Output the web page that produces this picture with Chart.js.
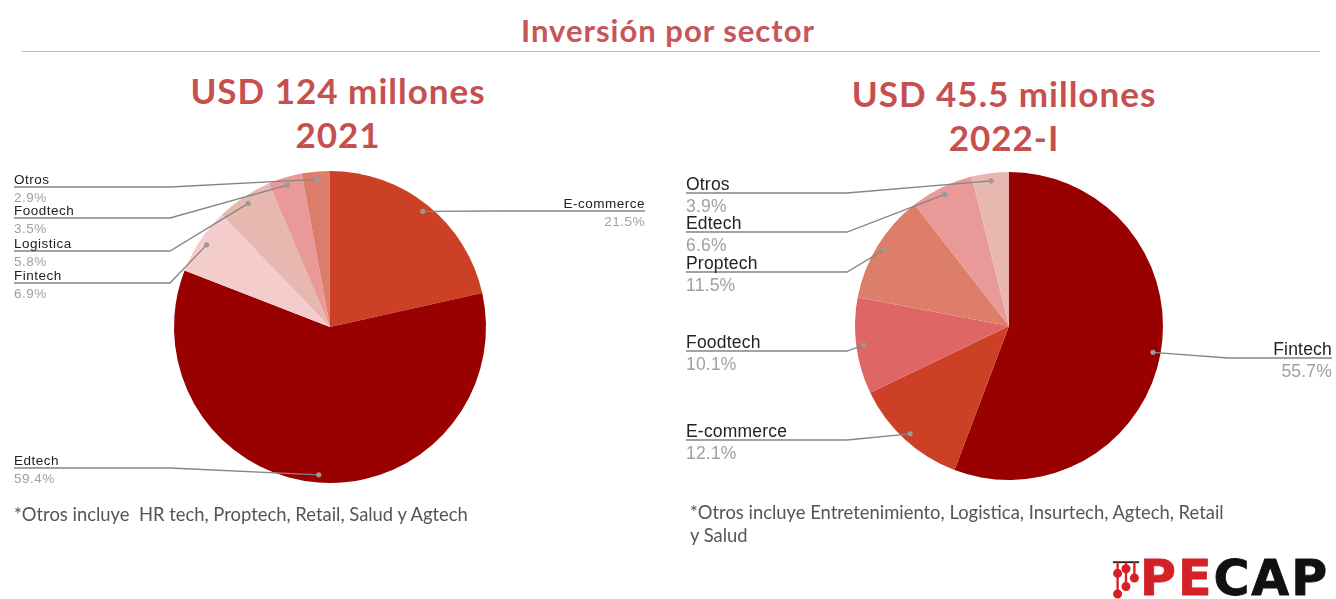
<!DOCTYPE html>
<html>
<head>
<meta charset="utf-8">
<script src="https://cdn.jsdelivr.net/npm/chart.js@4.4.0/dist/chart.umd.min.js"></script>
<style>
  body { margin: 0; background: #fff; width: 1336px; height: 599px; overflow: hidden; position: relative; font-family: Lato, sans-serif; }
  .abs { position: absolute; }
  #title { left: 0; width: 1336px; top: 11px; text-align: center; font-size: 31px; font-weight: 700; letter-spacing: 1px; color: #c9545a; }
  #rule { left: 22px; top: 51px; width: 1298px; height: 0; border-top: 1.5px solid #f0a3a3; }
  .head { text-align: center; font-weight: 700; color: #c5504f; font-size: 35px; line-height: 44px; letter-spacing: 1px; }
  .note { font-size: 18.4px; color: #555; line-height: 23px; }
  #logo { left: 1112px; top: 556px; font-family: "DejaVu Sans", sans-serif; font-weight: 700; font-size: 49px; line-height: 46px; letter-spacing: 2px; -webkit-text-stroke: 0.8px currentColor; }
  canvas { position: absolute; }
</style>
</head>
<body>
<div id="title" class="abs">Inversión por sector</div>
<div id="rule" class="abs"></div>
<div class="abs head" style="left:138px;width:400px;top:68px">USD 124 millones<br>2021</div>
<div class="abs head" style="left:804px;width:400px;top:71px">USD 45.5 millones<br>2022-I</div>
<canvas id="pie2021" width="668" height="360" style="left:0;top:150px"></canvas>
<canvas id="pie2022" width="668" height="360" style="left:668px;top:150px"></canvas>
<div class="abs note" style="left:14px;top:503px">*Otros incluye&nbsp; HR tech, Proptech, Retail, Salud y Agtech</div>
<div class="abs note" style="left:690px;top:501px">*Otros incluye Entretenimiento, Logistica, Insurtech, Agtech, Retail<br>y Salud</div>
<div id="logo" class="abs">
  <svg width="28" height="40" viewBox="0 0 30 40" style="vertical-align:-4px;margin-right:0">
    <g stroke="#d42027" stroke-width="2.5" fill="#d42027">
      <line x1="1" y1="2" x2="29" y2="2" stroke="#222" stroke-width="2"/>
      <line x1="6" y1="2" x2="6" y2="38"/>
      <line x1="15" y1="2" x2="15" y2="30"/>
      <line x1="24" y1="2" x2="24" y2="20"/>
      <circle cx="6" cy="14" r="3.6"/><circle cx="6" cy="36" r="3.6"/>
      <circle cx="15" cy="9" r="3.6"/><circle cx="15" cy="28" r="3.6"/>
      <circle cx="24" cy="19" r="3.6"/>
    </g>
  </svg><span style="color:#d42027">PE</span><span style="color:#111">CAP</span>
</div>
<script>
// 2021 breakdown, clockwise from 12 o'clock
const sectors2021 = ['E-commerce', 'Edtech', 'Fintech', 'Logistica', 'Foodtech', 'Otros'];
const share2021 = [21.5, 59.4, 6.9, 5.8, 3.5, 2.9];
const colors2021 = ['#cc4125', '#990000', '#f4cccc', '#e6b8af', '#ea9999', '#dd7e6b'];

// 2022-I breakdown
const sectors2022 = ['Fintech', 'E-commerce', 'Foodtech', 'Proptech', 'Edtech', 'Otros'];
const share2022 = [55.7, 12.1, 10.1, 11.5, 6.6, 3.9];
const colors2022 = ['#990000', '#cc4125', '#e06666', '#dd7e6b', '#ea9999', '#e6b8af'];

// leader lines with the label sitting on the horizontal part
const leaderLabels = {
  id: 'leaderLabels',
  afterDraw(chart, args, opts) {
    const ctx = chart.ctx;
    const meta = chart.getDatasetMeta(0);
    const values = chart.data.datasets[0].data;
    meta.data.forEach((arc, i) => {
      const p = arc.getProps(['x', 'y', 'startAngle', 'endAngle', 'outerRadius'], true);
      const mid = (p.startAngle + p.endAngle) / 2;
      const dx = p.x + Math.cos(mid) * p.outerRadius * 0.95;
      const dy = p.y + Math.sin(mid) * p.outerRadius * 0.95;
      const row = opts.rows[i];
      const onLeft = row.side === 'left';
      const end = onLeft ? opts.left : opts.right;
      const elbow = onLeft ? opts.elbowLeft : opts.elbowRight;

      ctx.save();
      ctx.strokeStyle = '#858585';
      ctx.lineWidth = 1.3;
      ctx.beginPath();
      ctx.moveTo(end, row.y);
      ctx.lineTo(elbow, row.y);
      ctx.lineTo(dx, dy);
      ctx.stroke();
      ctx.fillStyle = '#9a9a9a';
      ctx.beginPath();
      ctx.arc(dx, dy, 2.6, 0, Math.PI * 2);
      ctx.fill();

      ctx.font = opts.fontSize + 'px "Liberation Sans", Arial, sans-serif';
      ctx.letterSpacing = opts.spacing;
      ctx.textAlign = onLeft ? 'left' : 'right';
      ctx.textBaseline = 'alphabetic';
      ctx.fillStyle = '#222';
      ctx.fillText(chart.data.labels[i], end, row.y - 3);
      ctx.fillStyle = '#a0a0a0';
      ctx.fillText(values[i].toFixed(1) + '%', end, row.y + opts.fontSize + 1);
      ctx.restore();
    });
  }
};

function makePie(id, labels, data, colors, padding, leaders) {
  return new Chart(document.getElementById(id), {
    type: 'pie',
    data: {
      labels: labels,
      datasets: [{ data: data, backgroundColor: colors, borderWidth: 0 }]
    },
    options: {
      responsive: false,
      animation: false,
      layout: { padding: padding },
      plugins: {
        legend: { display: false },
        tooltip: { enabled: false },
        leaderLabels: leaders
      }
    },
    plugins: [leaderLabels]
  });
}

makePie('pie2021', sectors2021, share2021, colors2021,
  { top: 21, bottom: 27, left: 174, right: 182 },
  {
    fontSize: 13.5, spacing: '0.5px', left: 14, right: 645, elbowLeft: 170, elbowRight: 500,
    rows: [
      { side: 'right', y: 61 },
      { side: 'left', y: 318 },
      { side: 'left', y: 133 },
      { side: 'left', y: 101 },
      { side: 'left', y: 68 },
      { side: 'left', y: 37 }
    ]
  });

makePie('pie2022', sectors2022, share2022, colors2022,
  { top: 22, bottom: 30, left: 187, right: 173 },
  {
    fontSize: 17.5, spacing: '0.2px', left: 18, right: 664, elbowLeft: 179, elbowRight: 560,
    rows: [
      { side: 'right', y: 208 },
      { side: 'left', y: 290 },
      { side: 'left', y: 201 },
      { side: 'left', y: 122 },
      { side: 'left', y: 82 },
      { side: 'left', y: 43 }
    ]
  });
</script>
</body>
</html>
